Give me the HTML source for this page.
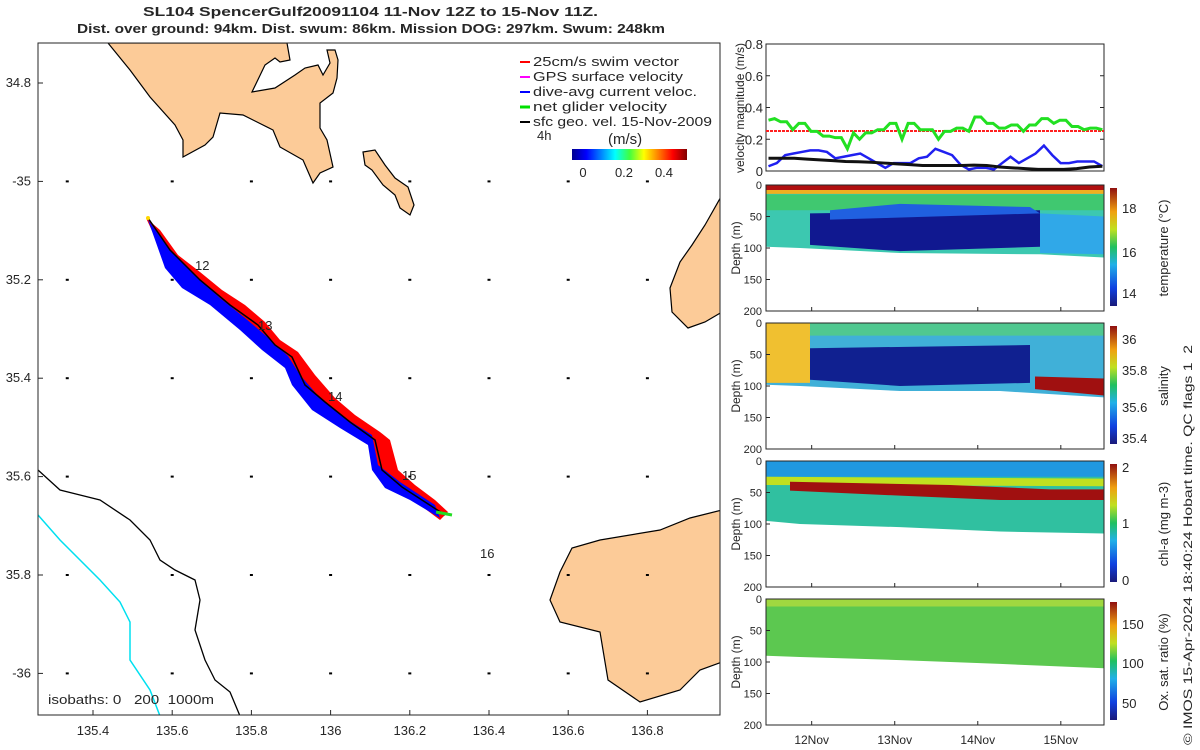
<!DOCTYPE html>
<html><head><meta charset="utf-8"><style>
body{margin:0;background:#fff}
svg{display:block;font-family:"Liberation Sans",sans-serif}
text{fill:#262626}
</style></head><body>
<svg id="root" width="1200" height="750" viewBox="0 0 1200 750">
<defs>
<linearGradient id="jetH" x1="0" x2="1" y1="0" y2="0">
<stop offset="0" stop-color="#00008f"/><stop offset="0.125" stop-color="#0000ff"/><stop offset="0.375" stop-color="#00ffff"/><stop offset="0.5" stop-color="#40ff40"/><stop offset="0.625" stop-color="#ffff00"/><stop offset="0.875" stop-color="#ff0000"/><stop offset="1" stop-color="#800000"/></linearGradient>
<linearGradient id="jetV" x1="0" x2="0" y1="1" y2="0">
<stop offset="0" stop-color="#1a1a7a"/><stop offset="0.15" stop-color="#1040e0"/><stop offset="0.35" stop-color="#20b0e8"/><stop offset="0.5" stop-color="#20c060"/><stop offset="0.65" stop-color="#c0e020"/><stop offset="0.8" stop-color="#f0a010"/><stop offset="1" stop-color="#901010"/></linearGradient>
<clipPath id="mapclip"><rect x="38" y="43" width="682" height="672"/></clipPath>
</defs>

<text x="143" y="16" textLength="455" lengthAdjust="spacingAndGlyphs" font-size="13" font-weight="bold" fill="#000">SL104 SpencerGulf20091104 11-Nov 12Z to 15-Nov 11Z.</text>
<text x="77" y="33" textLength="588" lengthAdjust="spacingAndGlyphs" font-size="13" font-weight="bold" fill="#000">Dist. over ground: 94km. Dist. swum: 86km. Mission DOG: 297km. Swum: 248km</text>

<g id="map">
<g clip-path="url(#mapclip)">
<path fill="#fccb98" stroke="#000" stroke-width="1.2" d="M108,43 L130,70 L150,97 L175,125 L183,140 L183,157 L205,145 L213,137 L220,113 L243,115 L273,130 L280,147 L303,160 L313,183 L320,173 L333,167 L327,140 L320,128 L320,103 L333,93 L337,78 L338,60 L335,50 L327,50 L330,63 L323,75 L318,65 L305,68 L295,75 L275,88 L252,92 L265,65 L275,58 L280,62 L290,60 L287,43 Z"/>
<path fill="#fccb98" stroke="#000" stroke-width="1.2" d="M363,152 L375,150 L385,165 L395,178 L408,187 L414,205 L410,215 L400,208 L395,195 L383,185 L372,170 L365,165 Z"/>
<path fill="#fccb98" stroke="#000" stroke-width="1.2" d="M722,195 L705,225 L692,245 L680,262 L670,288 L672,312 L688,328 L705,322 L722,312 Z"/>
<path fill="#fccb98" stroke="#000" stroke-width="1.2" d="M722,510 L690,518 L660,530 L600,540 L572,548 L560,572 L550,600 L560,622 L600,632 L608,680 L640,702 L680,690 L700,670 L722,662 Z"/>
<path fill="none" stroke="#000" stroke-width="1.3" d="M38,470 L60,490 L80,495 L100,500 L130,520 L150,540 L160,560 L175,570 L195,580 L200,600 L195,630 L205,660 L215,680 L230,692 L240,716"/>
<path fill="none" stroke="#00e0f0" stroke-width="1.5" d="M38,515 L60,540 L100,580 L120,602 L130,622 L130,660 L150,690 L160,716"/>
<path fill="none" stroke="#00e0f0" stroke-width="1.5" d="M220,722 Q245,710 268,722"/>
<g id="vecgrid"></g>
<path fill="#ff0000" d="M146,218 L160,230 L178,255 L200,272 L222,290 L245,305 L265,322 L280,340 L298,352 L315,375 L335,398 L355,415 L380,432 L390,440 L398,470 L415,485 L435,500 L448,512 L440,520 L420,505 L398,492 L378,475 L370,445 L348,430 L320,410 L300,385 L285,362 L262,345 L240,320 L215,300 L190,285 L168,265 Z"/>
<path fill="#0000ff" d="M148,220 L170,250 L195,275 L220,298 L245,318 L265,335 L288,356 L300,375 L320,398 L345,418 L372,435 L378,465 L400,482 L435,505 L440,518 L410,500 L385,488 L372,470 L368,445 L340,428 L312,410 L292,385 L285,368 L262,350 L240,330 L210,305 L182,288 L165,268 Z"/>
<path fill="none" stroke="#000" stroke-width="1.5" d="M148,218 L170,250 L200,280 L230,305 L258,325 L275,345 L292,357 L305,385 L325,402 L350,422 L375,440 L382,470 L402,487 L445,515"/>
<path d="M436,512 L452,515" stroke="#22dd22" stroke-width="3"/>
<circle cx="148" cy="218" r="2" fill="#ffd800"/>
<text x="195" y="270" font-size="13" fill="#000">12</text>
<text x="258" y="330" font-size="13" fill="#000">13</text>
<text x="328" y="401" font-size="13" fill="#000">14</text>
<text x="402" y="480" font-size="13" fill="#000">15</text>
<text x="480" y="558" font-size="13" fill="#000">16</text>
</g>
<rect x="38" y="43" width="682" height="672" fill="none" stroke="#262626" stroke-width="1"/>
<g id="mapticks"></g>
<text x="48" y="704" font-size="13" textLength="166" lengthAdjust="spacingAndGlyphs" fill="#000" xml:space="preserve">isobaths: 0   200  1000m</text>
<g font-size="13">
<line x1="520" y1="62" x2="530" y2="62" stroke="#ff0000" stroke-width="2"/><text x="533" y="66" textLength="146" lengthAdjust="spacingAndGlyphs" fill="#000">25cm/s swim vector</text>
<line x1="520" y1="77" x2="530" y2="77" stroke="#ff00ff" stroke-width="2"/><text x="533" y="81" textLength="150" lengthAdjust="spacingAndGlyphs" fill="#000">GPS surface velocity</text>
<line x1="520" y1="92" x2="530" y2="92" stroke="#0000ff" stroke-width="2"/><text x="533" y="96" textLength="164" lengthAdjust="spacingAndGlyphs" fill="#000">dive-avg current veloc.</text>
<line x1="520" y1="107" x2="530" y2="107" stroke="#00e000" stroke-width="3"/><text x="533" y="111" textLength="134" lengthAdjust="spacingAndGlyphs" fill="#000">net glider velocity</text>
<line x1="520" y1="122" x2="530" y2="122" stroke="#000" stroke-width="2"/><text x="533" y="126" textLength="179" lengthAdjust="spacingAndGlyphs" fill="#000">sfc geo. vel. 15-Nov-2009</text>
<text x="537" y="140" fill="#000" font-size="13">4h</text>
<text x="608" y="144" fill="#000" font-size="15">(m/s)</text>
<rect x="572" y="149" width="115" height="11" fill="url(#jetH)"/>
<text x="583" y="177" fill="#000" font-size="13" text-anchor="middle">0</text>
<text x="624" y="177" fill="#000" font-size="13" text-anchor="middle">0.2</text>
<text x="664" y="177" fill="#000" font-size="13" text-anchor="middle">0.4</text>
</g>
</g>

<g id="vel">
<rect x="766" y="44" width="338" height="127" fill="none" stroke="#262626"/>
<g id="velticks"></g>
<line x1="766" y1="131" x2="1104" y2="131" stroke="#ff2020" stroke-width="2" stroke-dasharray="3,1"/>
<g id="vellines"></g>
<text transform="translate(744,108) rotate(-90)" font-size="12" text-anchor="middle">velocity magnitude (m/s)</text>
</g>

<g id="sections"></g>

<text transform="translate(1192,545) rotate(-90)" font-size="12" textLength="400" lengthAdjust="spacingAndGlyphs" text-anchor="middle" xml:space="preserve">© IMOS 15-Apr-2024 18:40:24 Hobart time. QC flags 1  2</text>
</svg>
<script>
const NS='http://www.w3.org/2000/svg';
function mk(tag,attrs,parent){const e=document.createElementNS(NS,tag);for(const k in attrs)e.setAttribute(k,attrs[k]);parent.appendChild(e);return e;}

// ---- map axes ----
const lonTicks=[135.4,135.6,135.8,136,136.2,136.4,136.6,136.8];
const latTicks=[34.8,35,35.2,35.4,35.6,35.8,36];
const latLabels=['34.8','-35','35.2','35.4','35.6','35.8','-36'];
const lonX=v=>93+(v-135.4)*396;
const latY=v=>83+(v-34.8)*492;
const mt=document.getElementById('mapticks');
lonTicks.forEach(v=>{const x=lonX(v);
 mk('line',{x1:x,x2:x,y1:715,y2:710,stroke:'#262626'},mt);
 const t=mk('text',{x:x,y:735,'font-size':13,'text-anchor':'middle'},mt);t.textContent=String(v);
 
 });
latTicks.forEach((v,i)=>{const y=latY(v);
 mk('line',{x1:38,x2:43,y1:y,y2:y,stroke:'#262626'},mt);
 const t=mk('text',{x:31,y:y+4,'font-size':13,'text-anchor':'end'},mt);t.textContent=latLabels[i];
 
 });
const vg=document.getElementById('vecgrid');
const gridLon=[135.335,135.6,135.8,136,136.2,136.4,136.6,136.8];
gridLon.forEach(lo=>latTicks.forEach(la=>{if(la<35)return;
 const d=mk('rect',{x:lonX(lo)-1.5,y:latY(la)-1,width:3,height:2,fill:'#000'},vg);
 
 }));

// ---- velocity chart ----
const velTicks=[0,0.2,0.4,0.6,0.8];
const green=[0.32,0.33,0.31,0.31,0.26,0.30,0.30,0.25,0.25,0.22,0.22,0.21,0.21,0.14,0.24,0.20,0.24,0.24,0.26,0.26,0.30,0.30,0.20,0.30,0.30,0.26,0.26,0.26,0.20,0.25,0.25,0.27,0.27,0.25,0.34,0.34,0.30,0.30,0.27,0.27,0.29,0.29,0.25,0.29,0.29,0.33,0.33,0.30,0.32,0.32,0.28,0.28,0.26,0.27,0.27,0.26];
const blue=[0.03,0.05,0.10,0.11,0.12,0.13,0.13,0.12,0.08,0.09,0.10,0.11,0.08,0.05,0.02,0.05,0.05,0.05,0.08,0.09,0.14,0.12,0.10,0.04,0.01,0.02,0.02,0.01,0.05,0.09,0.05,0.08,0.11,0.16,0.10,0.05,0.05,0.06,0.06,0.06,0.03];
const black=[0.08,0.08,0.08,0.075,0.07,0.065,0.06,0.058,0.055,0.05,0.045,0.04,0.035,0.035,0.035,0.035,0.037,0.035,0.025,0.02,0.015,0.01,0.01,0.01,0.015,0.025,0.03];
const dayTicks=[12,13,14,15];
const t0=11.45,t1=15.52;
const tX=t=>766+(t-t0)/(t1-t0)*338;
const vY=v=>171-v*158.75;
const vt=document.getElementById('velticks');
velTicks.forEach(v=>{const y=vY(v);
 mk('line',{x1:766,x2:770,y1:y,y2:y,stroke:'#262626'},vt);
 mk('line',{x1:1100,x2:1104,y1:y,y2:y,stroke:'#262626'},vt);
 const t=mk('text',{x:763,y:y+5,'font-size':13,'text-anchor':'end'},vt);t.textContent=v===0?'0':String(v);
 
 });
const vl=document.getElementById('vellines');
function series(arr,color,w,name){
 const pts=arr.map((v,i)=>tX(t0+0.03+i/(arr.length-1)*(t1-t0-0.05))+','+vY(v)).join(' ');
 const p=mk('polyline',{points:pts,fill:'none',stroke:color,'stroke-width':w},vl);
 
 }
series(green,'#22e022',3,'net-glider-velocity-line');
series(blue,'#2020f0',2.5,'dive-avg-current-line');
series(black,'#111',3,'sfc-geo-velocity-line');

// ---- sections ----
const sec=document.getElementById('sections');
const panels=[
 {top:185,name:'temperature',label:'temperature (°C)',cb:['18','16','14'],cby:[208,252,293]},
 {top:323,name:'salinity',label:'salinity',cb:['36','35.8','35.6','35.4'],cby:[339,370,407,438]},
 {top:461,name:'chlorophyll',label:'chl-a (mg m-3)',cb:['2','1','0'],cby:[467,523,580]},
 {top:599,name:'oxygen',label:'Ox. sat. ratio (%)',cb:['150','100','50'],cby:[624,663,703]}];
const depthTicks=[0,50,100,150,200];
function band(g,top,pts,color){
 const d=pts.map((p,i)=>(i?'L':'M')+p[0]+','+(top+p[1]*0.63)).join(' ')+'Z';
 mk('path',{d:d,fill:color},g);}
panels.forEach((P,pi)=>{
 const g=mk('g',{},sec);
 
 
 const T=P.top,L=766,R=1104;
 if(pi===0){
  band(g,T,[[L,0],[R,0],[R,115],[1040,110],[900,108],[800,100],[L,98]],'#3cc8b0');
  band(g,T,[[L,15],[R,15],[R,40],[L,40]],'#40c870');
  band(g,T,[[810,45],[1040,40],[1040,98],[900,105],[810,95]],'#101890');
  band(g,T,[[830,40],[900,30],[1030,35],[1040,45],[830,55]],'#2060e0');
  band(g,T,[[1040,45],[R,50],[R,110],[1040,108]],'#30a8e8');
  band(g,T,[[L,0],[R,0],[R,8],[L,8]],'#b01010');
  band(g,T,[[L,8],[R,8],[R,14],[L,14]],'#f0b020');
 } else if(pi===1){
  band(g,T,[[L,0],[R,0],[R,118],[1000,108],[900,108],[800,100],[L,98]],'#40b0d8');
  band(g,T,[[L,0],[R,0],[R,20],[L,20]],'#50c890');
  band(g,T,[[L,0],[810,0],[810,95],[L,95]],'#f0c030');
  band(g,T,[[810,40],[1030,35],[1030,95],[900,100],[810,90]],'#102090');
  band(g,T,[[1035,85],[R,88],[R,115],[1035,105]],'#a01010');
 } else if(pi===2){
  band(g,T,[[L,0],[R,0],[R,115],[1000,112],[900,105],[800,100],[L,95]],'#30c0a0');
  band(g,T,[[L,0],[R,0],[R,25],[L,25]],'#2098e0');
  band(g,T,[[L,25],[R,28],[R,40],[L,38]],'#c0e020');
  band(g,T,[[790,33],[950,38],[1050,45],[R,45],[R,62],[1000,62],[900,55],[790,47]],'#a01010');
 } else {
  band(g,T,[[L,0],[R,0],[R,110],[1000,103],[900,97],[800,92],[L,90]],'#5cc850');
  band(g,T,[[L,0],[R,0],[R,12],[L,12]],'#a0d840');
 }
 mk('rect',{x:L,y:T,width:R-L,height:126,fill:'none',stroke:'#262626'},g);
 depthTicks.forEach(d=>{const y=T+d*0.63;
  mk('line',{x1:L,x2:L+4,y1:y,y2:y,stroke:'#262626'},g);
  const t=mk('text',{x:L-4,y:y+4,'font-size':11,'text-anchor':'end'},g);t.textContent=String(d);
  
  });
 const yt=mk('text',{transform:`translate(740,${T+63}) rotate(-90)`,'font-size':12,'text-anchor':'middle'},g);yt.textContent='Depth (m)';
 
 
 const cb=mk('rect',{x:1110,y:T+3,width:7,height:118,fill:'url(#jetV)'},g);
 
 
 P.cb.forEach((s,i)=>{const t=mk('text',{x:1122,y:P.cby[i]+5,'font-size':13},g);t.textContent=s;
  
  });
 const cl=mk('text',{transform:`translate(1168,${T+63}) rotate(-90)`,'font-size':13,'text-anchor':'middle'},g);cl.textContent=P.label;
 
 
 dayTicks.forEach(d=>{const x=tX(d);mk('line',{x1:x,x2:x,y1:T+126,y2:T+122,stroke:'#262626'},g);});
});
dayTicks.forEach(d=>{const t=mk('text',{x:tX(d),y:744,'font-size':12,'text-anchor':'middle'},sec);t.textContent=d+'Nov';
 
 });
</script>
</body></html>
